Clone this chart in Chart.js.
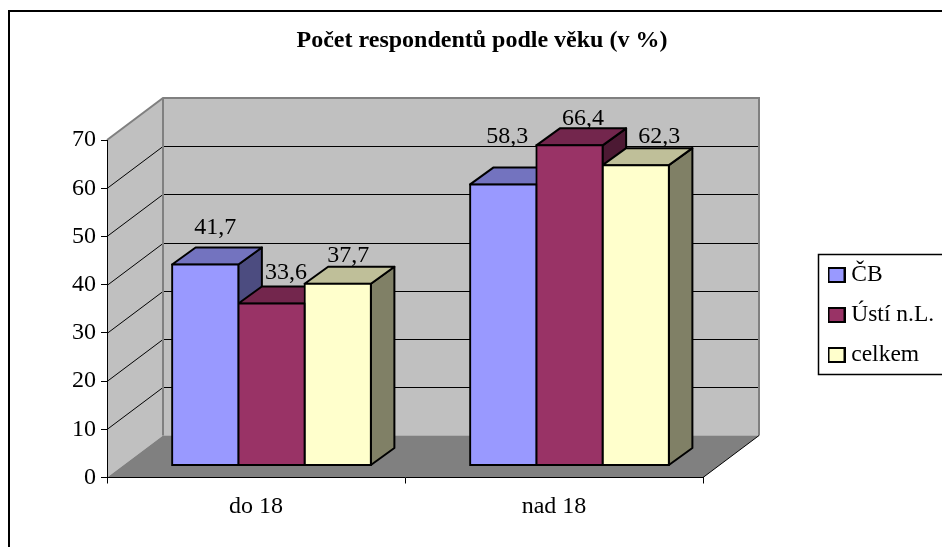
<!DOCTYPE html>
<html><head><meta charset="utf-8">
<style>html,body{margin:0;padding:0;background:#fff;overflow:hidden}canvas{display:block}</style>
<script src="https://cdn.jsdelivr.net/npm/chart.js@4/dist/chart.umd.min.js"></script>
</head><body><canvas id="c" width="942" height="547"></canvas>
<script>
const titleText = 'Počet respondentů podle věku (v %)';
const categories = ['do 18', 'nad 18'];
const cbValues = [41.7, 58.3];
const ustiValues = [33.6, 66.4];
const celkemValues = [37.7, 62.3];
const yMax = 70, yStep = 10;

const FONT = 'Liberation Serif';
const depth = {x: 56, y: -42};      // floor depth of the 3D box
const barDepth = {x: 23.5, y: -17}; // depth of each bar
const barShift = {x: 15.5, y: -12};
const palette = [
  {front:'#9999FF', top:'#7373BF', side:'#4C4C80'},
  {front:'#993366', top:'#73264D', side:'#4C1933'},
  {front:'#FFFFCC', top:'#BFBF99', side:'#808066'}
];
const labelNudge = [
  [[10,-37],[4,-48]],
  [[14.5,-31],[13.5,-27]],
  [[10.5,-29],[23.5,-29]]
];

function swatch(color){
  const c = document.createElement('canvas'); c.width = 18; c.height = 16;
  const g = c.getContext('2d');
  g.fillStyle = color; g.strokeStyle = '#000'; g.lineWidth = 2;
  g.fillRect(1,1,16,14); g.strokeRect(1,1,16,14);
  return c;
}
function poly(ctx, pts, fill, stroke, lw){
  ctx.beginPath();
  pts.forEach((p,i)=> i ? ctx.lineTo(p[0],p[1]) : ctx.moveTo(p[0],p[1]));
  ctx.closePath();
  if (fill){ctx.fillStyle = fill; ctx.fill();}
  if (stroke){ctx.strokeStyle = stroke; ctx.lineWidth = lw; ctx.lineJoin = 'round'; ctx.stroke();}
}

const box3d = {
  id:'box3d',
  afterLayout(chart){
    const t = chart.titleBlock; t.left = 0; t.right = 964;
    const l = chart.legend; l.left = 817; l.right = 942; l.top = 246.75; l.bottom = 450;
  },
  beforeDraw(chart){
    const {ctx, chartArea:a, scales:{y}} = chart;
    ctx.save();
    ctx.fillStyle = '#fff'; ctx.fillRect(0,0,chart.width,chart.height);
    // outer frame
    ctx.strokeStyle = '#000'; ctx.lineWidth = 2;
    ctx.beginPath(); ctx.moveTo(9,560); ctx.lineTo(9,11); ctx.lineTo(960,11); ctx.stroke();
    // legend frame
    ctx.lineWidth = 1.5; ctx.beginPath(); ctx.moveTo(960,254.5); ctx.lineTo(818.5,254.5); ctx.lineTo(818.5,374.5); ctx.lineTo(960,374.5); ctx.stroke();
    const L=a.left,R=a.right,T=a.top,B=a.bottom,dx=depth.x,dy=depth.y;
    // back and left walls, floor
    poly(ctx,[[L+dx,T+dy],[R+dx,T+dy],[R+dx,B+dy],[L+dx,B+dy]],'#C0C0C0');
    poly(ctx,[[L,T],[L+dx,T+dy],[L+dx,B+dy],[L,B]],'#C0C0C0');
    poly(ctx,[[L,B],[L+dx,B+dy],[R+dx,B+dy],[R,B]],'#808080');
    // grid lines from the value scale
    ctx.lineWidth = 1; ctx.strokeStyle = '#000';
    for (let v = yStep; v < yMax; v += yStep){
      const p = Math.round(y.getPixelForValue(v)) + .5;
      ctx.beginPath(); ctx.moveTo(L,p); ctx.lineTo(L+dx,p+dy); ctx.lineTo(R+dx,p+dy); ctx.stroke();
    }
    // wall edges
    ctx.strokeStyle = '#808080'; ctx.lineWidth = 2;
    ctx.beginPath(); ctx.moveTo(L,T); ctx.lineTo(L+dx,T+dy); ctx.lineTo(R+dx,T+dy); ctx.lineTo(R+dx,B+dy); ctx.stroke();
    ctx.beginPath(); ctx.moveTo(L+dx,T+dy); ctx.lineTo(L+dx,B+dy); ctx.stroke();
    ctx.strokeStyle = '#000'; ctx.lineWidth = 1;
    ctx.beginPath(); ctx.moveTo(R,B); ctx.lineTo(R+dx,B+dy); ctx.stroke();
    ctx.restore();
  },
  beforeDatasetsDraw(chart){
    const ctx = chart.ctx, dx = barDepth.x, dy = barDepth.y;
    ctx.save();
    ctx.translate(barShift.x, barShift.y);
    // side and top faces, left to right, so that each bar hides the one before it
    chart.data.datasets.forEach((ds,i)=>{
      const col = palette[i];
      chart.getDatasetMeta(i).data.forEach(e=>{
        const x0=e.x-e.width/2, x1=e.x+e.width/2;
        poly(ctx,[[x1,e.y],[x1+dx,e.y+dy],[x1+dx,e.base+dy],[x1,e.base]],col.side,'#000',2);
        poly(ctx,[[x0,e.y],[x0+dx,e.y+dy],[x1+dx,e.y+dy],[x1,e.y]],col.top,'#000',2);
      });
    });
  },
  afterDatasetsDraw(chart){
    const ctx = chart.ctx;
    ctx.restore();
    ctx.save();
    ctx.font = '24px "'+FONT+'"'; ctx.fillStyle='#000'; ctx.textAlign='center'; ctx.textBaseline='middle';
    chart.data.datasets.forEach((ds,i)=>{
      chart.getDatasetMeta(i).data.forEach((e,j)=>{
        const n = labelNudge[i][j];
        ctx.fillText(ds.data[j].toFixed(1).replace('.',','), e.x+barShift.x+n[0], e.y+barShift.y+n[1]+.5);
      });
    });
    ctx.restore();
  }
};

const names = ['ČB','Ústí n.L.','celkem'];
const series = [cbValues, ustiValues, celkemValues];

new Chart(document.getElementById('c'), {
  type:'bar',
  data:{
    labels: categories,
    datasets: series.map((vals,i)=>({
      label:names[i], data:vals,
      backgroundColor:palette[i].front, borderColor:'#000', borderWidth:2,
      borderSkipped:false, inflateAmount:1,
      categoryPercentage:0.667, barPercentage:1, clip:false
    }))
  },
  plugins:[box3d],
  options:{
    responsive:false, animation:false, devicePixelRatio:1,
    layout:{padding:{left:0,right:239,top:0,bottom:0}},
    plugins:{
      tooltip:{enabled:false},
      title:{display:true,text:titleText,color:'#000',align:'center',
        font:{family:FONT,size:24,weight:'bold',lineHeight:1.2},padding:{top:26,bottom:85.2}},
      legend:{display:true,position:'chartArea',align:'start',
        labels:{usePointStyle:true,pointStyleWidth:6,boxHeight:15,padding:16.5,color:'#000',
          font:{family:FONT,size:23.5,lineHeight:1.2},
          generateLabels:(chart)=>chart.data.datasets.map((d,i)=>({
            text:d.label,datasetIndex:i,hidden:false,lineWidth:0,fontColor:'#000',
            pointStyle:swatch(palette[i].front)
          }))
        }
      }
    },
    scales:{
      x:{
        afterFit(s){s.height=69.5;},
        grid:{offset:true,drawOnChartArea:false,tickLength:6,color:'#000',tickColor:'#000'},
        border:{color:'#000',width:1},
        ticks:{color:'#000',padding:9,maxRotation:0,font:{family:FONT,size:24}}
      },
      y:{
        min:0,max:yMax,
        afterFit(s){s.width=107;},
        grid:{drawOnChartArea:false,tickLength:6,color:'#000',tickColor:'#000'},
        border:{color:'#000',width:1},
        ticks:{stepSize:yStep,color:'#000',padding:5,font:{family:FONT,size:24}}
      }
    }
  }
});
</script></body></html>
